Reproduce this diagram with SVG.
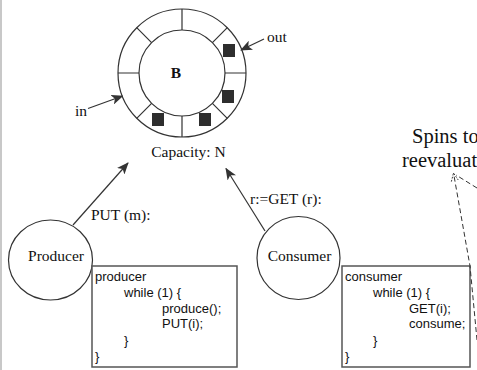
<svg xmlns="http://www.w3.org/2000/svg" width="477" height="370" viewBox="0 0 477 370">
  <style>
    .ln { fill: none; stroke: #333; stroke-width: 1.2; }
    .lbl { font-family: "Liberation Serif", "Times New Roman", serif; font-size: 15.5px; fill: #111; }
    .note { font-family: "Liberation Serif", "Times New Roman", serif; font-size: 20.5px; fill: #111; }
    .code { font-family: "Liberation Sans", Arial, sans-serif; font-size: 13px; fill: #111; }
    .box { fill: #fff; stroke: #555; stroke-width: 1.5; }
    .slot { fill: #2e2e2e; }
    .dash { fill: none; stroke: #333; stroke-width: 1; stroke-dasharray: 5 3; }
  </style>
  <defs>
    <marker id="head" viewBox="0 0 12 10" refX="11" refY="5" markerWidth="12" markerHeight="10" markerUnits="userSpaceOnUse" orient="auto">
      <path d="M0,0 L12,5 L0,10 L3,5 z" fill="#333"/>
    </marker>
    <marker id="open" viewBox="0 0 10 10" refX="9" refY="5" markerWidth="9" markerHeight="9" markerUnits="userSpaceOnUse" orient="auto">
      <path d="M0,1 L9,5 L0,9" fill="none" stroke="#333" stroke-width="1" stroke-dasharray="2 1.5"/>
    </marker>
  </defs>

  <rect width="477" height="370" fill="#fff"/>
  <line x1="1" y1="0" x2="1" y2="370" stroke="#c8c8c8" stroke-width="2"/>

  <!-- circular buffer -->
  <g id="buffer">
    <circle class="ln" cx="182" cy="73" r="64"/>
    <circle class="ln" cx="182" cy="73" r="43"/>
    <path class="ln" d="M182,9 V30 M182,116 V137 M118,73 H139 M225,73 H246
             M136.7,27.7 L151.6,42.6 M227.3,27.7 L212.4,42.6
             M136.7,118.3 L151.6,103.4 M227.3,118.3 L212.4,103.4"/>
    <rect class="slot" x="223" y="44" width="12" height="13"/>
    <rect class="slot" x="222" y="90" width="12" height="13"/>
    <rect class="slot" x="152" y="113" width="12" height="13"/>
    <rect class="slot" x="199" y="113" width="12" height="13"/>
    <text x="176" y="78" text-anchor="middle" font-family="Liberation Serif, serif" font-weight="bold" font-size="15.5" fill="#111">B</text>
    <text class="lbl" x="188.5" y="157" text-anchor="middle">Capacity: N</text>
  </g>

  <g id="in-label">
    <text class="lbl" x="75" y="116">in</text>
  </g>
  <g id="out-label">
    <text class="lbl" x="267" y="42">out</text>
  </g>

  <!-- producer -->
  <g id="producer">
    <ellipse class="ln" cx="50.5" cy="260" rx="42" ry="40"/>
    <text class="lbl" x="56" y="261" text-anchor="middle">Producer</text>
  </g>
  <g id="producer-code">
    <rect class="box" x="92" y="266" width="145" height="101"/>
    <text class="code" x="95" y="281">producer</text>
    <text class="code" x="124" y="297">while (1) {</text>
    <text class="code" x="162" y="313">produce();</text>
    <text class="code" x="162" y="328">PUT(i);</text>
    <text class="code" x="124" y="345">}</text>
    <text class="code" x="95" y="361">}</text>
  </g>

  <!-- consumer -->
  <g id="consumer">
    <circle class="ln" cx="298.5" cy="258" r="41.5"/>
    <text class="lbl" x="299.5" y="261" text-anchor="middle">Consumer</text>
  </g>
  <g id="consumer-code">
    <rect class="box" x="342" y="266" width="128" height="101"/>
    <text class="code" x="345" y="281">consumer</text>
    <text class="code" x="373" y="297">while (1) {</text>
    <text class="code" x="409" y="313">GET(i);</text>
    <text class="code" x="409" y="328">consume;</text>
    <text class="code" x="373" y="345">}</text>
    <text class="code" x="345" y="361">}</text>
  </g>

  <g id="note">
    <text class="note" x="412" y="143">Spins to</text>
    <text class="note" x="402" y="167">reevaluat</text>
  </g>

  <!-- connectors -->
  <g id="connectors">
    <line class="ln" x1="264" y1="39" x2="241" y2="50" marker-end="url(#head)"/>
    <line class="ln" x1="88" y1="108.5" x2="122.5" y2="96" marker-end="url(#head)"/>
    <line class="ln" x1="73" y1="225" x2="128" y2="163" marker-end="url(#head)"/>
    <text class="lbl" x="91" y="220">PUT (m):</text>
    <line class="ln" x1="265" y1="231" x2="226" y2="168.5" marker-end="url(#head)"/>
    <text class="lbl" x="250" y="204">r:=GET (r):</text>
    <path class="dash" d="M477,340 L470,266 L453.5,173" marker-end="url(#open)"/>
    <path class="dash" d="M477,188 L456,175"/>
  </g>
</svg>
